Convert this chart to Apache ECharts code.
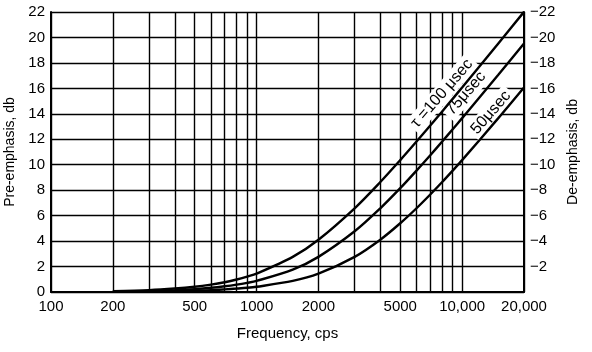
<!DOCTYPE html>
<html>
<head>
<meta charset="utf-8">
<script src="https://cdn.jsdelivr.net/npm/echarts@6/dist/echarts.min.js"></script>
<style>
  html, body { margin: 0; padding: 0; background: #fff; }
  #chart { width: 592px; height: 352px; }
</style>
</head>
<body>
<div id="chart"></div>
<script>
// frequencies in cps, values in db
var freq = [200, 300, 400, 500, 600, 700, 800, 900, 1000, 1500, 2000, 3000, 4000, 5000, 6000, 7000, 8000, 9000, 10000, 15000, 20000];
var tau100 = [0.07, 0.15, 0.27, 0.41, 0.58, 0.77, 0.98, 1.21, 1.44, 2.76, 4.11, 6.58, 8.64, 10.36, 11.82, 13.08, 14.19, 15.18, 16.07, 19.53, 22.01];
var tau75 = [0.04, 0.09, 0.15, 0.23, 0.33, 0.45, 0.58, 0.72, 0.87, 1.76, 2.76, 4.77, 6.58, 8.16, 9.54, 10.75, 11.82, 12.79, 13.66, 17.07, 19.53];
var tau50 = [0.02, 0.04, 0.07, 0.11, 0.15, 0.21, 0.27, 0.33, 0.41, 0.87, 1.44, 2.76, 4.11, 5.40, 6.58, 7.66, 8.64, 9.54, 10.36, 13.66, 16.07];

var xLabels = [100, 200, 500, 1000, 2000, 5000, 10000, 20000];
var xGrid = [100, 200, 300, 400, 500, 600, 700, 800, 900, 1000, 2000, 3000, 4000, 5000, 6000, 7000, 8000, 9000, 10000, 20000];

// curve labels: [text, freq, db]
var curveLabels = [
  ['\u03c4 =100 \u03bcsec', 7980, 15.6],
  ['75\u03bcsec', 10430, 15.6],
  ['50\u03bcsec', 13800, 14.1]
];

var font = 'Liberation Sans';

function pairs(ys) {
  return freq.map(function (f, i) { return [f, ys[i]]; });
}

function fmtFreq(v) {
  return v >= 10000 ? String(v).replace(/\B(?=(\d{3})+(?!\d))/g, ',') : String(v);
}

function curve(ys, lab) {
  return {
    type: 'line',
    z: 3,
    data: pairs(ys),
    smooth: 0.3,
    showSymbol: false,
    lineStyle: { color: '#000', width: 2.4 },
    markPoint: {
      z: 1,
      symbol: 'circle',
      symbolSize: 0,
      data: [{
        coord: [lab[1], lab[2]],
        label: {
          show: true,
          formatter: lab[0],
          rotate: 49,
          position: 'inside',
          fontFamily: font,
          fontSize: 16,
          color: '#000',
          backgroundColor: '#fff',
          padding: [1, 3]
        }
      }]
    }
  };
}

var chart = echarts.init(document.getElementById('chart'));

var option = {
  animation: false,
  grid: { left: 51, right: 68, top: 12, bottom: 60, containLabel: false, outerBoundsMode: 'none' },
  xAxis: {
    type: 'log',
    logBase: 10,
    min: 100,
    max: 20000,
    name: 'Frequency, cps',
    nameLocation: 'middle',
    nameGap: 34,
    nameTextStyle: { fontFamily: font, fontSize: 15, color: '#000' },
    axisLine: { show: true, lineStyle: { color: '#000', width: 2 } },
    axisTick: { show: false, customValues: xGrid },
    axisLabel: {
      customValues: xLabels,
      formatter: fmtFreq,
      fontFamily: font,
      fontSize: 15,
      color: '#000',
      margin: 7
    },
    splitLine: { show: true, lineStyle: { color: '#000', width: 1.4 } },
    minorSplitLine: { show: false }
  },
  yAxis: [
    {
      type: 'value',
      min: 0,
      max: 22,
      interval: 2,
      name: 'Pre-emphasis, db',
      nameLocation: 'middle',
      nameRotate: 90,
      nameGap: 31,
      nameTextStyle: { fontFamily: font, fontSize: 14, color: '#000' },
      axisLine: { show: true, lineStyle: { color: '#000', width: 2 } },
      axisTick: { show: false },
      axisLabel: { fontFamily: font, fontSize: 15, color: '#000', margin: 6 },
      splitLine: { show: true, lineStyle: { color: '#000', width: 1.4 } }
    },
    {
      type: 'value',
      min: 0,
      max: 22,
      interval: 2,
      position: 'right',
      name: 'De-emphasis, db',
      nameLocation: 'middle',
      nameRotate: 90,
      nameGap: 42,
      nameTextStyle: { fontFamily: font, fontSize: 14, color: '#000' },
      axisLine: { show: true, lineStyle: { color: '#000', width: 2 } },
      axisTick: { show: false },
      axisLabel: {
        fontFamily: font,
        fontSize: 15,
        color: '#000',
        margin: 6,
        formatter: function (v) { return v === 0 ? '' : '\u2212' + v; }
      },
      splitLine: { show: false }
    }
  ],
  series: [
    curve(tau100, curveLabels[0]),
    curve(tau75, curveLabels[1]),
    curve(tau50, curveLabels[2])
  ]
};

chart.setOption(option);
</script>
</body>
</html>
